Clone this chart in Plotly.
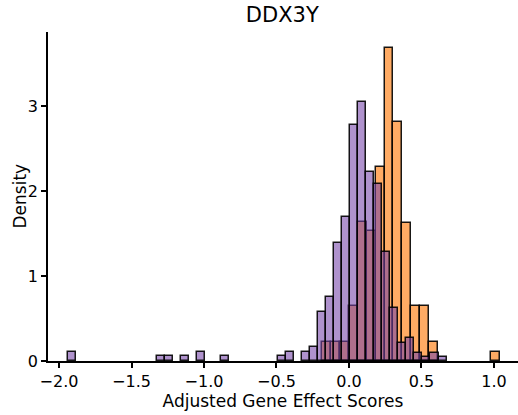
import numpy as np
import plotly.graph_objects as go

# ---- data ----
title_text = "DDX3Y"
x_label = "Adjusted Gene Effect Scores"
y_label = "Density"

# purple group: histogram bins (start edge, width) and densities
purple_bin_start = -1.9363
purple_bin_width = 0.05552
purple_density = [
    0.11, 0, 0, 0, 0, 0, 0, 0, 0, 0, 0,      # -1.94 ...
    0.055, 0.055, 0, 0.055, 0, 0.11, 0, 0, 0.055,
    0, 0, 0, 0, 0, 0,
    0.055, 0.11, 0, 0.11, 0.16, 0.58, 0.75, 1.39, 1.70,
    2.78, 3.05, 2.23, 2.08, 1.28, 0.63, 0.21, 0.27, 0.10, 0.05, 0.10, 0.05,
]

# orange group
orange_bin_start = -0.1842
orange_bin_width = 0.06138
orange_density = [
    0.22, 0.22, 0.22, 0.65, 1.64, 1.53, 2.28, 3.69, 2.82, 1.63,
    0.65, 0.65, 0.22, 0, 0, 0, 0, 0, 0, 0.11,
]

x_ticks = [-2.0, -1.5, -1.0, -0.5, 0.0, 0.5, 1.0]
y_ticks = [0, 1, 2, 3]


def centers(start, width, dens):
    dens = np.asarray(dens, dtype=float)
    c = start + width * (np.arange(len(dens)) + 0.5)
    keep = dens > 0
    return c[keep], dens[keep]


ox, oy = centers(orange_bin_start, orange_bin_width, orange_density)
px, py = centers(purple_bin_start, purple_bin_width, purple_density)

fig = go.Figure()
fig.add_trace(go.Bar(
    x=ox, y=oy, width=orange_bin_width,
    marker=dict(color="rgba(255,127,20,0.66)",
                line=dict(color="rgba(0,0,0,0.9)", width=1.5)),
    showlegend=False,
))
fig.add_trace(go.Bar(
    x=px, y=py, width=purple_bin_width,
    marker=dict(color="rgba(118,68,168,0.58)",
                line=dict(color="rgba(0,0,0,0.9)", width=1.5)),
    showlegend=False,
))

font_family = "DejaVu Sans, Arial, sans-serif"
fig.update_layout(
    width=518, height=415,
    barmode="overlay", bargap=0,
    plot_bgcolor="white", paper_bgcolor="white",
    margin=dict(l=48, r=0, t=32, b=54, autoexpand=False),
    font=dict(family=font_family, color="black"),
    title=dict(text=title_text, x=0.545, xanchor="center", y=0.965, yanchor="middle",
               font=dict(size=21, family=font_family, color="black")),
    annotations=[dict(
        text=y_label, textangle=-90, showarrow=False,
        xref="paper", yref="paper", x=-29 / 470, y=0.5,
        xanchor="center", yanchor="middle",
        font=dict(size=17, family=font_family, color="black"),
    )],
)
fig.update_xaxes(
    range=[-2.076, 1.166],
    tickvals=x_ticks,
    ticktext=[f"{v:.1f}".replace("-", "\u2212") for v in x_ticks],
    ticks="outside", ticklen=5, tickwidth=1.5, tickcolor="black",
    showline=True, linecolor="black", linewidth=1.5,
    showgrid=False, zeroline=False, automargin=False,
    tickfont=dict(size=16),
    title=dict(text=x_label, font=dict(size=17), standoff=3),
)
fig.update_yaxes(
    range=[0, 3.875],
    tickvals=y_ticks,
    ticks="outside", ticklen=5, tickwidth=1.5, tickcolor="black",
    showline=True, linecolor="black", linewidth=1.5,
    showgrid=False, zeroline=False, automargin=False,
    tickfont=dict(size=16),
)

fig.write_html(
    "out.html",
    config={"displayModeBar": False},
    post_script="document.body.style.margin='0';document.body.style.padding='0';",
)
